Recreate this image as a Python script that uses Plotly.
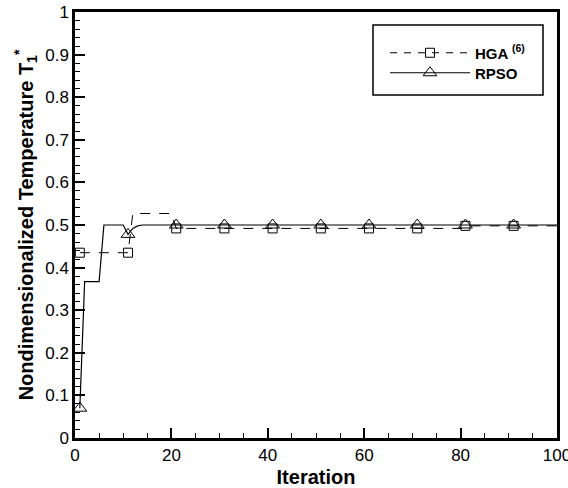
import plotly.graph_objects as go

# RPSO line (iteration, value)
rpso_iter = [1, 2, 5, 6, 10, 11, 12, 13, 14, 15, 100]
rpso_vals = [0.07, 0.367, 0.367, 0.5, 0.5, 0.478, 0.492, 0.498, 0.5, 0.5, 0.5]
# HGA line (iteration, value)
hga_iter = [1, 11, 12, 20, 21, 80, 81, 100]
hga_vals = [0.435, 0.435, 0.527, 0.527, 0.492, 0.492, 0.498, 0.498]
# markers every 10 iterations
mark_iter = [1, 11, 21, 31, 41, 51, 61, 71, 81, 91]
rpso_mark = [0.07, 0.478, 0.5, 0.5, 0.5, 0.5, 0.5, 0.5, 0.5, 0.5]
hga_mark = [0.435, 0.435, 0.492, 0.492, 0.492, 0.492, 0.492, 0.492, 0.498, 0.498]

x_ticks = [0, 20, 40, 60, 80, 100]
y_ticks = [0, 0.1, 0.2, 0.3, 0.4, 0.5, 0.6, 0.7, 0.8, 0.9, 1]
y_tick_text = ["0", "0.1", "0.2", "0.3", "0.4", "0.5", "0.6", "0.7", "0.8", "0.9", "1"]

FONT = "Liberation Sans, Arial, sans-serif"

fig = go.Figure()
fig.add_trace(go.Scatter(x=hga_iter, y=hga_vals, mode="lines",
                         line=dict(color="black", width=1, dash="10px,9px"),
                         showlegend=False, hoverinfo="skip"))
fig.add_trace(go.Scatter(x=rpso_iter, y=rpso_vals, mode="lines",
                         line=dict(color="black", width=1.2),
                         showlegend=False, hoverinfo="skip"))
fig.add_trace(go.Scatter(x=mark_iter, y=hga_mark, mode="markers",
                         marker=dict(symbol="square-open", size=9, color="black", line=dict(width=1)),
                         showlegend=False))
fig.add_trace(go.Scatter(x=mark_iter, y=rpso_mark, mode="markers",
                         marker=dict(symbol="triangle-up-open", size=12, color="black", line=dict(width=1)),
                         showlegend=False))
# legend entries
fig.add_trace(go.Scatter(x=[None], y=[None], mode="lines+markers", name="<b>HGA <sup>(6)</sup></b>",
                         line=dict(color="black", width=1, dash="7px,7px"),
                         marker=dict(symbol="square-open", size=9, color="black", line=dict(width=1)),
                         legend="legend"))
fig.add_trace(go.Scatter(x=[None], y=[None], mode="lines+markers", name="<b>RPSO</b>",
                         line=dict(color="black", width=1.2),
                         marker=dict(symbol="triangle-up-open", size=12, color="black", line=dict(width=1)),
                         legend="legend2"))

L, R, T, B = 75, 11, 12, 50
PW, PH = 568 - L - R, 488 - T - B

# legend box
fig.add_shape(type="rect", xref="paper", yref="paper",
              x0=(373 - L) / PW, x1=(543 - L) / PW,
              y0=1 - (95 - T) / PH, y1=1 - (25 - T) / PH,
              line=dict(color="black", width=1.5), fillcolor="rgba(0,0,0,0)")

axis_common = dict(
    showgrid=False, zeroline=False, showline=True, linecolor="black", linewidth=2.5,
    mirror=True, ticks="inside", tickcolor="black", tickwidth=2, ticklen=10,
    tickfont=dict(family=FONT, size=17, color="black"), automargin=False,
    ticklabeloverflow="allow",
)
fig.update_xaxes(range=[0, 100], tickvals=x_ticks,
                 minor=dict(dtick=5, ticks="inside", ticklen=5, tickwidth=1, tickcolor="black"),
                 title=dict(text="<b>Iteration</b>", font=dict(family=FONT, size=20, color="black"), standoff=7),
                 **axis_common)
fig.update_yaxes(range=[0, 1], tickvals=y_ticks, ticktext=y_tick_text,
                 minor=dict(dtick=0.02, ticks="inside", ticklen=5, tickwidth=1, tickcolor="black"),
                 title=dict(text="<b>Nondimensionalized Temperature T<sub>1</sub><sup>*</sup></b>",
                            font=dict(family=FONT, size=20, color="black"), standoff=7),
                 **axis_common)

leg_common = dict(x=(385 - L) / PW, xanchor="left", yanchor="middle",
                  bgcolor="rgba(0,0,0,0)", borderwidth=0, itemwidth=80,
                  font=dict(family=FONT, size=15, color="black"))

fig.update_layout(
    width=568, height=488,
    margin=dict(l=L, r=R, t=T, b=B),
    plot_bgcolor="white", paper_bgcolor="white",
    font=dict(family=FONT, color="black"),
    legend=dict(y=1 - (53 - T) / PH, **leg_common),
    legend2=dict(y=1 - (73 - T) / PH, **leg_common),
    showlegend=True,
)

fig.write_html("out.html", config={"displayModeBar": False},
               post_script="document.body.style.margin='0';document.body.style.overflow='hidden';")
